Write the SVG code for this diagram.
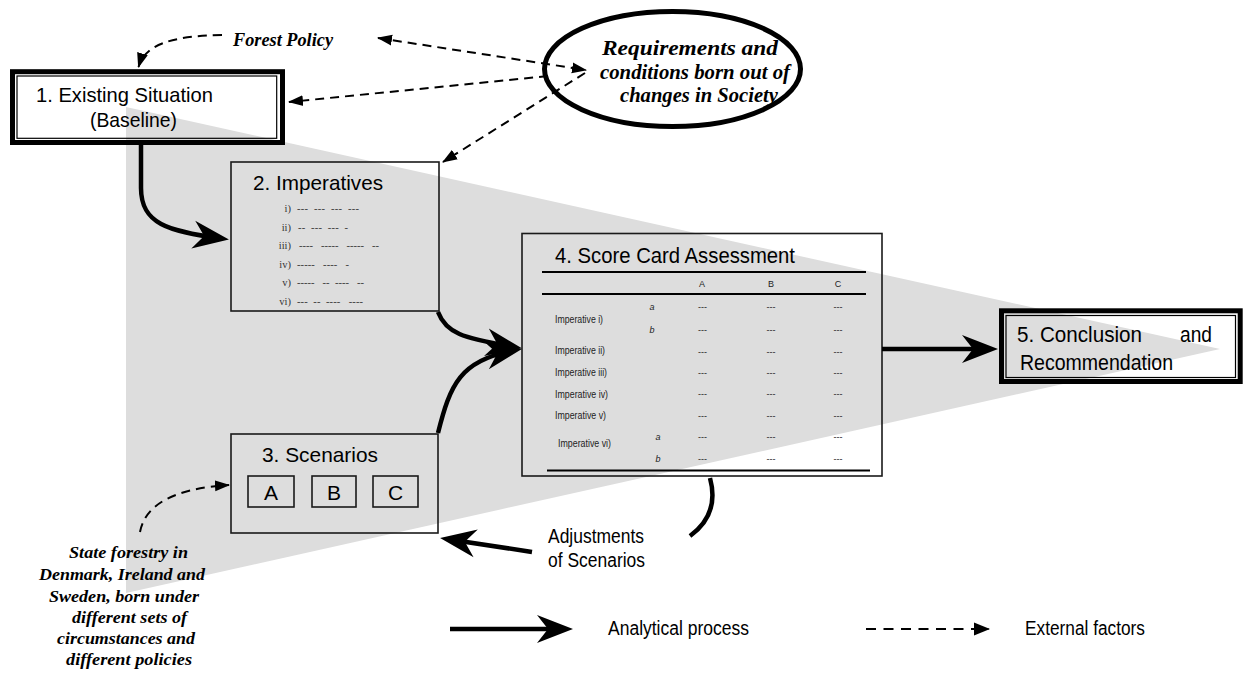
<svg xmlns="http://www.w3.org/2000/svg" width="1247" height="675" viewBox="0 0 1247 675">
<defs>
<style>
.sans{font-family:"Liberation Sans",Arial,sans-serif;fill:#000}
.ext{font-family:"Liberation Serif","Times New Roman",serif;font-style:italic;font-weight:bold;fill:#000}
.box{fill:none;stroke:#1a1a1a;stroke-width:1.6}
.thick{fill:none;stroke:#000;stroke-width:5}
.thin{fill:none;stroke:#000;stroke-width:1.2}
.flow{fill:none;stroke:#000;stroke-width:4.5}
.dash{fill:none;stroke:#000;stroke-width:2;stroke-dasharray:9 6}
.rn{font-family:"Liberation Serif","Times New Roman",serif;font-size:10.5px;fill:#333;text-anchor:end}
.dl{font-family:"Liberation Serif","Times New Roman",serif;font-size:10.5px;fill:#333}
.lbl{font-family:"Liberation Sans",Arial,sans-serif;font-size:10px;fill:#222}
.cell{font-family:"Liberation Sans",Arial,sans-serif;font-size:9px;text-anchor:middle;fill:#222}
.ab{font-family:"Liberation Sans",Arial,sans-serif;font-size:9px;font-style:italic;text-anchor:middle;fill:#222}
.rule{stroke:#000;stroke-width:1.8}
</style>
<marker id="big" markerUnits="userSpaceOnUse" markerWidth="38" markerHeight="30" viewBox="0 0 38 30" refX="28" refY="15" orient="auto"><path d="M0,1 L36,15 L0,29 L11,15 Z" fill="#000"/></marker>
<marker id="tri" markerUnits="userSpaceOnUse" markerWidth="16" markerHeight="12" viewBox="0 0 16 12" refX="14" refY="6" orient="auto-start-reverse"><path d="M0,0.5 L15,6 L0,11.5 Z" fill="#000"/></marker>
<marker id="tri2" markerUnits="userSpaceOnUse" markerWidth="17" markerHeight="14" viewBox="0 0 17 14" refX="15" refY="7" orient="auto"><path d="M0,0.5 L16,7 L0,13.5 Z" fill="#000"/></marker>
</defs>

<rect width="1247" height="675" fill="#fff"/>
<polygon id="funnel" points="126,107 1220,349 126,593" fill="#dddddd"/>

<g id="box1">
<rect class="thick" x="12.5" y="71.7" width="270" height="70.8"/>
<rect class="thin" x="17" y="76" width="259.7" height="62.3"/>
<text class="sans" x="36" y="102" font-size="21" textLength="177" lengthAdjust="spacingAndGlyphs">1. Existing Situation</text>
<text class="sans" x="90" y="127" font-size="21" textLength="87" lengthAdjust="spacingAndGlyphs">(Baseline)</text>
</g>

<g id="forest-policy">
<text class="ext" x="233" y="46" font-size="18" textLength="100" lengthAdjust="spacingAndGlyphs">Forest Policy</text>
</g>

<g id="society">
<ellipse cx="672.5" cy="69" rx="128" ry="57.5" fill="#fff" stroke="#000" stroke-width="5"/>
<text class="ext" x="602" y="55" font-size="20" textLength="176" lengthAdjust="spacingAndGlyphs">Requirements and</text>
<text class="ext" x="600" y="79" font-size="20" textLength="190" lengthAdjust="spacingAndGlyphs">conditions born out of</text>
<text class="ext" x="620" y="102" font-size="20" textLength="158" lengthAdjust="spacingAndGlyphs">changes in Society</text>
</g>

<g id="box2">
<rect class="box" x="231" y="162" width="208" height="149"/>
<text class="sans" x="253" y="190" font-size="21" textLength="130" lengthAdjust="spacingAndGlyphs">2. Imperatives</text>
<text class="rn" x="291" y="212">i)</text>
<text class="rn" x="291" y="231">ii)</text>
<text class="rn" x="291" y="249">iii)</text>
<text class="rn" x="291" y="268">iv)</text>
<text class="rn" x="291" y="286">v)</text>
<text class="rn" x="291" y="305">vi)</text>
<text class="dl" x="297" y="212" xml:space="preserve" textLength="62" lengthAdjust="spacing">---  ---  ---  ---</text>
<text class="dl" x="298" y="231" xml:space="preserve" textLength="50" lengthAdjust="spacing">--  ---  ---  -</text>
<text class="dl" x="299" y="249" xml:space="preserve" textLength="80" lengthAdjust="spacing">----   -----   -----   --</text>
<text class="dl" x="297" y="268" xml:space="preserve" textLength="52" lengthAdjust="spacing">-----   ----   -</text>
<text class="dl" x="297" y="286" xml:space="preserve" textLength="67" lengthAdjust="spacing">-----   --  ----   --</text>
<text class="dl" x="297" y="305" xml:space="preserve" textLength="66" lengthAdjust="spacing">---  --  ----   ----</text>
</g>

<g id="box3">
<rect class="box" x="231" y="434" width="207" height="99"/>
<text class="sans" x="262" y="462" font-size="21" textLength="116" lengthAdjust="spacingAndGlyphs">3. Scenarios</text>
<rect class="box" x="248" y="476" width="46" height="31"/>
<rect class="box" x="312" y="476" width="44" height="31"/>
<rect class="box" x="373" y="476" width="45" height="31"/>
<text class="sans" x="271" y="499.5" font-size="21" text-anchor="middle">A</text>
<text class="sans" x="334" y="499.5" font-size="21" text-anchor="middle">B</text>
<text class="sans" x="395.5" y="499.5" font-size="21" text-anchor="middle">C</text>
</g>

<g id="box4">
<rect class="box" x="522" y="233.5" width="360" height="242.5"/>
<text class="sans" x="555" y="263" font-size="22" textLength="240" lengthAdjust="spacingAndGlyphs">4. Score Card Assessment</text>
<line class="rule" x1="542" y1="272" x2="866" y2="272"/>
<line class="rule" x1="542" y1="294" x2="866" y2="294" stroke-width="1.5"/>
<line class="rule" x1="547" y1="470.5" x2="870" y2="470.5"/>
<text class="cell" x="702" y="287" font-size="8">A</text>
<text class="cell" x="771" y="287" font-size="8">B</text>
<text class="cell" x="838" y="287" font-size="8">C</text>
<text class="lbl" x="555" y="323" textLength="48" lengthAdjust="spacingAndGlyphs">Imperative i)</text>
<text class="lbl" x="555" y="354" textLength="50" lengthAdjust="spacingAndGlyphs">Imperative ii)</text>
<text class="lbl" x="555" y="376" textLength="52" lengthAdjust="spacingAndGlyphs">Imperative iii)</text>
<text class="lbl" x="555" y="397.5" textLength="53" lengthAdjust="spacingAndGlyphs">Imperative iv)</text>
<text class="lbl" x="555" y="418.5" textLength="51" lengthAdjust="spacingAndGlyphs">Imperative v)</text>
<text class="lbl" x="558" y="447" textLength="53" lengthAdjust="spacingAndGlyphs">Imperative vi)</text>
<text class="ab" x="652" y="310">a</text>
<text class="ab" x="652" y="333">b</text>
<text class="ab" x="658" y="440">a</text>
<text class="ab" x="658" y="462">b</text>
<g class="cell">
<text x="702.5" y="310">---</text><text x="771" y="310">---</text><text x="838" y="310">---</text>
<text x="702.5" y="333">---</text><text x="771" y="333">---</text><text x="838" y="333">---</text>
<text x="702.5" y="355">---</text><text x="771" y="355">---</text><text x="838" y="355">---</text>
<text x="702.5" y="376">---</text><text x="771" y="376">---</text><text x="838" y="376">---</text>
<text x="702.5" y="397">---</text><text x="771" y="397">---</text><text x="838" y="397">---</text>
<text x="702.5" y="419">---</text><text x="771" y="419">---</text><text x="838" y="419">---</text>
<text x="702.5" y="440">---</text><text x="771" y="440">---</text><text x="838" y="440">---</text>
<text x="702.5" y="462">---</text><text x="771" y="462">---</text><text x="838" y="462">---</text>
</g>
</g>

<g id="box5">
<rect class="thick" x="1001.5" y="310.8" width="238.7" height="70.7"/>
<rect class="thin" x="1006" y="315.5" width="229.5" height="62"/>
<text class="sans" font-size="22"><tspan x="1017" y="342" textLength="125" lengthAdjust="spacingAndGlyphs">5. Conclusion</tspan><tspan x="1180" y="342" textLength="32" lengthAdjust="spacingAndGlyphs">and</tspan></text>
<text class="sans" x="1020" y="370" font-size="22" textLength="153" lengthAdjust="spacingAndGlyphs">Recommendation</text>
</g>

<g id="state-forestry">
<text class="ext" x="69" y="558" font-size="17.5" textLength="119" lengthAdjust="spacingAndGlyphs">State forestry in</text>
<text class="ext" x="39" y="580" font-size="17.5" textLength="166" lengthAdjust="spacingAndGlyphs">Denmark, Ireland and</text>
<text class="ext" x="49" y="602" font-size="17.5" textLength="150" lengthAdjust="spacingAndGlyphs">Sweden, born under</text>
<text class="ext" x="72" y="623" font-size="17.5" textLength="115" lengthAdjust="spacingAndGlyphs">different sets of</text>
<text class="ext" x="57" y="644" font-size="17.5" textLength="138" lengthAdjust="spacingAndGlyphs">circumstances and</text>
<text class="ext" x="66" y="665" font-size="17.5" textLength="126" lengthAdjust="spacingAndGlyphs">different policies</text>
</g>

<g id="adjustments">
<text class="sans" x="548" y="543" font-size="20" textLength="96" lengthAdjust="spacingAndGlyphs">Adjustments</text>
<text class="sans" x="548" y="567" font-size="20" textLength="97" lengthAdjust="spacingAndGlyphs">of Scenarios</text>
</g>

<g id="connectors">
<path class="flow" d="M141,145 L141,188 C141,224 168,231 221,238.5" marker-end="url(#big)"/>
<path class="flow" d="M438,312 C446,333 462,338 514,347" marker-end="url(#big)"/>
<path class="flow" d="M438,433 C450,385 460,360 514,350.5" marker-end="url(#big)"/>
<path class="flow" d="M882,349 L990,349" marker-end="url(#big)"/>
<path class="flow" d="M710,478 C716,500 712,520 690,536"/>
<path class="flow" d="M532,552 L448,539.2" marker-end="url(#big)"/>
<path class="dash" d="M222,35 C170,36 145,45 138.5,67" marker-end="url(#tri)"/>
<path class="dash" d="M378,38 L586,70" marker-start="url(#tri)" marker-end="url(#tri)"/>
<path class="dash" d="M548,76 L289,102" marker-end="url(#tri)"/>
<path class="dash" d="M585,73 L443,162" marker-end="url(#tri)"/>
<path class="dash" d="M140,532 Q148,490 229,485" marker-end="url(#tri)"/>
</g>

<g id="legend">
<path class="flow" d="M450,629 L565,629" marker-end="url(#big)"/>
<text class="sans" x="608" y="635" font-size="20" textLength="141" lengthAdjust="spacingAndGlyphs">Analytical process</text>
<path d="M866,629 L989,629" fill="none" stroke="#000" stroke-width="2" stroke-dasharray="10 7.5" marker-end="url(#tri2)"/>
<text class="sans" x="1025" y="635" font-size="20" textLength="120" lengthAdjust="spacingAndGlyphs">External factors</text>
</g>
</svg>
